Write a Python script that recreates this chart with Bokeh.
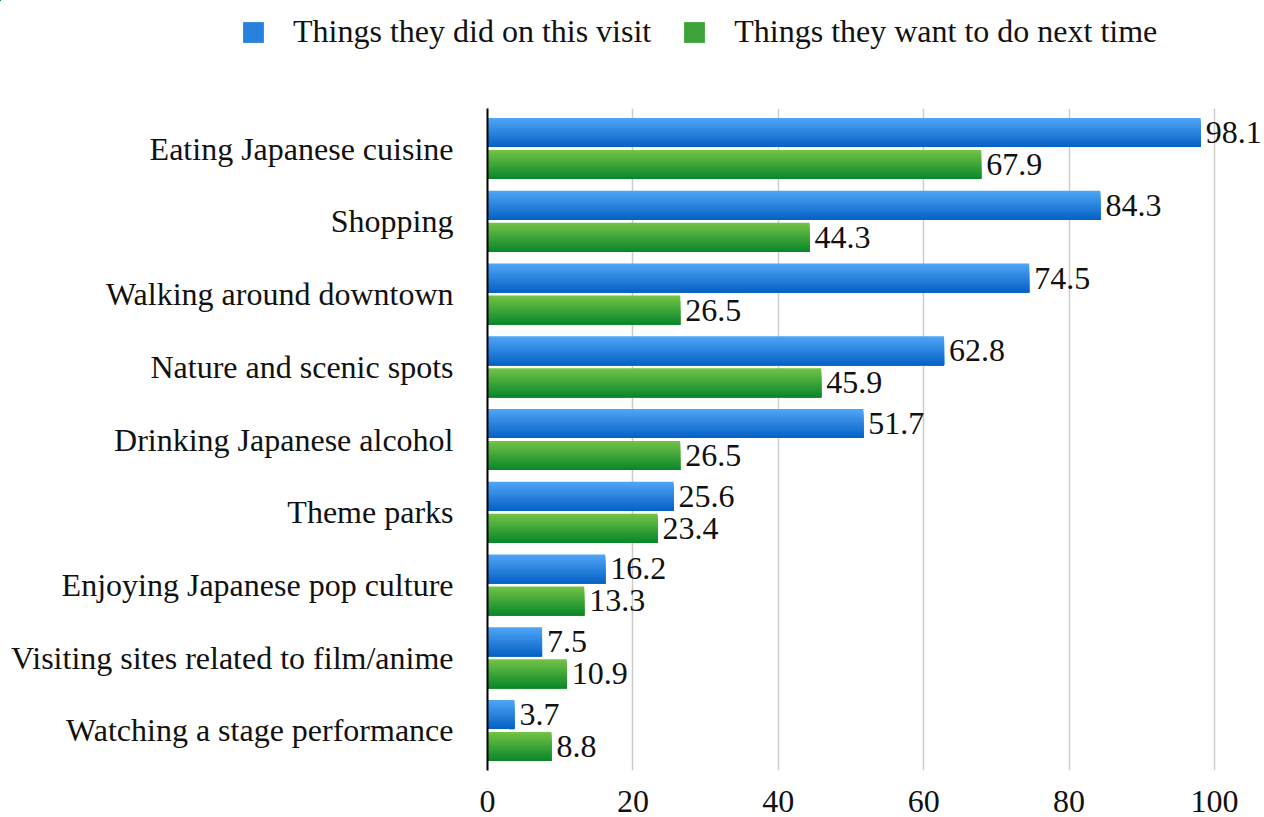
import numpy as np
from bokeh.plotting import figure
from bokeh.layouts import column
from bokeh.models import Range1d, FixedTicker, Legend, LegendItem, ColumnDataSource
from bokeh.core.properties import value
from bokeh.embed import file_html
from bokeh.resources import INLINE

categories = [
    "Eating Japanese cuisine",
    "Shopping",
    "Walking around downtown",
    "Nature and scenic spots",
    "Drinking Japanese alcohol",
    "Theme parks",
    "Enjoying Japanese pop culture",
    "Visiting sites related to film/anime",
    "Watching a stage performance",
]
did_this_visit = [98.1, 84.3, 74.5, 62.8, 51.7, 25.6, 16.2, 7.5, 3.7]
want_next_time = [67.9, 44.3, 26.5, 45.9, 26.5, 23.4, 13.3, 10.9, 8.8]
series_names = ["Things they did on this visit", "Things they want to do next time"]
x_ticks = [0, 20, 40, 60, 80, 100]

FONT = "Liberation Serif"
LABEL_SIZE = "32px"
BLUE = ((0x50, 0xA6, 0xF7), (0x05, 0x60, 0xC4))
GREEN = ((0x74, 0xC4, 0x46), (0x08, 0x86, 0x2A))
N_SLICES = 16
BAR_H = 0.4
OFFSET = 0.22

n = len(categories)
centers = np.arange(n)[::-1].astype(float)  # first category at top

p = figure(width=1264, height=709, output_backend="svg", toolbar_location=None,
           x_range=Range1d(0, 106.6), y_range=Range1d(-0.55, n - 0.45),
           min_border_left=487, min_border_right=2, min_border_top=0, min_border_bottom=47)
p.outline_line_color = None
p.background_fill_color = "white"
p.border_fill_color = "white"
p.frame_align = False

# small header figure that only carries the legend
leg_fig = figure(width=1264, height=108, output_backend="svg", toolbar_location=None,
                 x_range=Range1d(5000, 6264), y_range=Range1d(-1000, -900),
                 x_axis_type=None, y_axis_type=None,
                 min_border_left=0, min_border_right=0, min_border_top=0, min_border_bottom=0)
leg_fig.outline_line_color = None
leg_fig.xgrid.visible = False
leg_fig.ygrid.visible = False
leg_fig.frame_align = False


def hexcol(c):
    return "#%02x%02x%02x" % tuple(int(round(v)) for v in c)


def gradient_source(values, ycent, grad):
    # overlapping layers: each layer spans from its top down to the bar bottom,
    # later (darker) layers cover the lower part -> smooth vertical gradient
    top, bot = np.array(grad[0], float), np.array(grad[1], float)
    ys, hs, rights, cols = [], [], [], []
    sh = BAR_H / N_SLICES
    for k in range(N_SLICES):
        t = (k + 0.5) / N_SLICES
        col = hexcol(top + (bot - top) * t)
        h = BAR_H - k * sh
        for v, yc in zip(values, ycent):
            ys.append(yc - BAR_H / 2 + h / 2)
            hs.append(h)
            rights.append(v)
            cols.append(col)
    return ColumnDataSource(dict(y=ys, h=hs, right=rights, color=cols))


src_blue = gradient_source(did_this_visit, centers + OFFSET, BLUE)
src_green = gradient_source(want_next_time, centers - OFFSET, GREEN)

legend_renderers = []
for src in (src_blue, src_green):
    p.hbar(y="y", left=0, right="right", height="h", fill_color="color",
           line_color=None, source=src)
    legend_renderers.append(
        leg_fig.hbar(y="y", left=0, right="right", height="h", fill_color="color",
                     line_color=None, source=src))

for vals, yc in ((did_this_visit, centers + OFFSET), (want_next_time, centers - OFFSET)):
    p.text(x=vals, y=list(yc), text=[f"{v:.1f}" for v in vals], x_offset=5,
           text_align="left", text_baseline="middle", text_font=value(FONT),
           text_font_size=LABEL_SIZE, text_color="#111111")

# axes
p.xaxis.ticker = FixedTicker(ticks=x_ticks)
p.xaxis.axis_line_color = None
p.xaxis.major_tick_line_color = None
p.xaxis.minor_tick_line_color = None
p.xaxis.major_label_text_font = FONT
p.xaxis.major_label_text_font_size = LABEL_SIZE
p.xaxis.major_label_text_color = "#111111"
p.xaxis.major_label_standoff = 14

p.yaxis.ticker = FixedTicker(ticks=list(centers))
p.yaxis.major_label_overrides = {float(c): cat for c, cat in zip(centers, categories)}
p.yaxis.axis_line_color = "black"
p.yaxis.axis_line_width = 2
p.yaxis.major_tick_line_color = None
p.yaxis.minor_tick_line_color = None
p.yaxis.major_label_text_font = FONT
p.yaxis.major_label_text_font_size = LABEL_SIZE
p.yaxis.major_label_text_color = "#111111"
p.yaxis.major_label_standoff = 28

p.xgrid.grid_line_color = "#cccccc"
p.xgrid.grid_line_width = 1.5
p.xgrid.ticker = FixedTicker(ticks=x_ticks[1:])
p.ygrid.grid_line_color = None

mid = (N_SLICES // 2) * n
legend = Legend(items=[
    LegendItem(label=series_names[0], renderers=[legend_renderers[0]], index=mid),
    LegendItem(label=series_names[1], renderers=[legend_renderers[1]], index=mid),
], orientation="horizontal", location=(240, 58), border_line_color=None,
    background_fill_alpha=0, padding=0, margin=0, spacing=30, label_standoff=27,
    glyph_width=26, glyph_height=26, label_text_font=FONT, label_text_font_size="32px",
    label_text_color="#111111", label_height=26)
leg_fig.add_layout(legend)

layout = column(leg_fig, p, spacing=0)
open("out.html", "w").write(file_html(layout, INLINE))
